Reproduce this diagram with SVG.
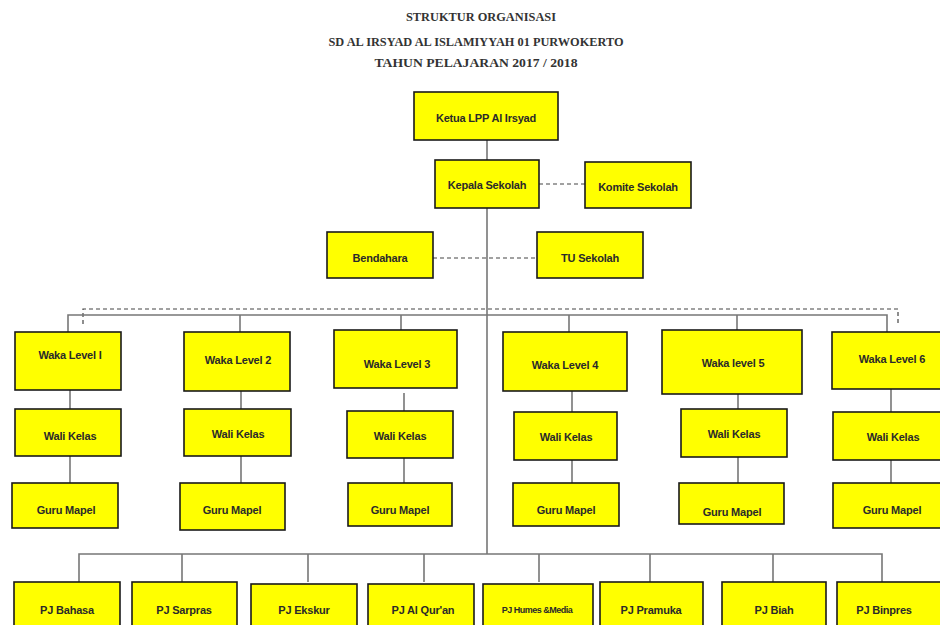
<svg xmlns="http://www.w3.org/2000/svg" width="940" height="625" viewBox="0 0 940 625">
<style>
.title{font-family:"Liberation Serif","DejaVu Serif",serif;font-size:12px;font-weight:bold;fill:#333;text-anchor:middle}
.box rect{fill:#FFFF00;stroke:#1a1a1a;stroke-width:1.6}
.box text{font-family:"Liberation Sans","DejaVu Sans",sans-serif;font-size:11px;font-weight:bold;fill:#2a2a2a;text-anchor:middle;dominant-baseline:central;letter-spacing:-0.2px}
.ln{stroke:#777;stroke-width:1.6;fill:none}
.dash{stroke:#444;stroke-width:1.2;fill:none;stroke-dasharray:4 3}
</style>
<rect width="940" height="625" fill="#fff"/>
<g id="title">
<text class="title" x="481" y="21" textLength="150" lengthAdjust="spacingAndGlyphs">STRUKTUR ORGANISASI</text>
<text class="title" x="476" y="46" textLength="295" lengthAdjust="spacingAndGlyphs">SD AL IRSYAD AL ISLAMIYYAH 01 PURWOKERTO</text>
<text class="title" x="476" y="67" textLength="203" lengthAdjust="spacingAndGlyphs">TAHUN PELAJARAN 2017 / 2018</text>
</g>
<g id="connectors">
<path class="ln" d="M487 140V160M487 208V554"/>
<path class="dash" d="M539 184H585M433 258H537"/>
<path class="dash" d="M83 324V309H898V324"/>
<path class="ln" d="M68 332V315H887V332M240 315V332M401 315V330M569 315V332M737 315V330"/>
<path class="ln" d="M70 390V409M70 456V483M241 391V409M241 456V483M404 393V411M404 458V483M572 391V412M572 460V483M738 394V409M738 457V483M891 389V412M891 460V483"/>
<path class="ln" d="M79 582V554H882V582M182 554V582M308 554V582M424 554V582M539 554V582M650 554V582M773 554V582"/>
</g>
<g id="ketua" class="box"><rect x="414" y="92" width="144" height="48"/><text x="486" y="118">Ketua LPP Al Irsyad</text></g>
<g id="kepala" class="box"><rect x="435" y="160" width="104" height="48"/><text x="487" y="185">Kepala Sekolah</text></g>
<g id="komite" class="box"><rect x="585" y="162" width="106" height="46"/><text x="638" y="187">Komite Sekolah</text></g>
<g id="bendahara" class="box"><rect x="327" y="232" width="106" height="46"/><text x="380" y="258">Bendahara</text></g>
<g id="tu" class="box"><rect x="537" y="232" width="106" height="46"/><text x="590" y="258">TU Sekolah</text></g>
<g id="waka1" class="box"><rect x="15" y="332" width="106" height="58"/><text x="70" y="355">Waka Level I</text></g>
<g id="waka2" class="box"><rect x="184" y="332" width="106" height="59"/><text x="238" y="360">Waka Level 2</text></g>
<g id="waka3" class="box"><rect x="334" y="330" width="123" height="58"/><text x="397" y="364">Waka Level 3</text></g>
<g id="waka4" class="box"><rect x="503" y="332" width="124" height="59"/><text x="565" y="365">Waka Level 4</text></g>
<g id="waka5" class="box"><rect x="662" y="330" width="140" height="64"/><text x="733" y="363">Waka level 5</text></g>
<g id="waka6" class="box"><rect x="832" y="332" width="112" height="57"/><text x="892" y="359">Waka Level 6</text></g>
<g id="wali1" class="box"><rect x="15" y="409" width="106" height="47"/><text x="70" y="436">Wali Kelas</text></g>
<g id="wali2" class="box"><rect x="184" y="409" width="107" height="47"/><text x="238" y="434">Wali Kelas</text></g>
<g id="wali3" class="box"><rect x="347" y="411" width="106" height="47"/><text x="400" y="436">Wali Kelas</text></g>
<g id="wali4" class="box"><rect x="514" y="412" width="103" height="48"/><text x="566" y="437">Wali Kelas</text></g>
<g id="wali5" class="box"><rect x="681" y="409" width="106" height="48"/><text x="734" y="434">Wali Kelas</text></g>
<g id="wali6" class="box"><rect x="833" y="412" width="111" height="48"/><text x="893" y="437">Wali Kelas</text></g>
<g id="guru1" class="box"><rect x="12" y="483" width="106" height="45"/><text x="66" y="510">Guru  Mapel</text></g>
<g id="guru2" class="box"><rect x="180" y="483" width="105" height="47"/><text x="232" y="510">Guru  Mapel</text></g>
<g id="guru3" class="box"><rect x="348" y="483" width="104" height="43"/><text x="400" y="510">Guru Mapel</text></g>
<g id="guru4" class="box"><rect x="513" y="483" width="106" height="43"/><text x="566" y="510">Guru  Mapel</text></g>
<g id="guru5" class="box"><rect x="679" y="483" width="105" height="41"/><text x="732" y="512">Guru Mapel</text></g>
<g id="guru6" class="box"><rect x="833" y="483" width="111" height="45"/><text x="892" y="510">Guru  Mapel</text></g>
<g id="pj-bahasa" class="box"><rect x="14" y="582" width="106" height="60"/><text x="67" y="610">PJ Bahasa</text></g>
<g id="pj-sarpras" class="box"><rect x="132" y="582" width="105" height="60"/><text x="184" y="610">PJ Sarpras</text></g>
<g id="pj-ekskur" class="box"><rect x="251" y="584" width="106" height="60"/><text x="304" y="610">PJ Ekskur</text></g>
<g id="pj-quran" class="box"><rect x="368" y="584" width="106" height="60"/><text x="423" y="610">PJ Al Qur'an</text></g>
<g id="pj-humes" class="box"><rect x="483" y="584" width="110" height="60"/><text x="537" y="610" style="font-size:9px;letter-spacing:-0.5px">PJ Humes &amp;Media</text></g>
<g id="pj-pramuka" class="box"><rect x="600" y="582" width="103" height="60"/><text x="651" y="610">PJ Pramuka</text></g>
<g id="pj-biah" class="box"><rect x="722" y="582" width="104" height="60"/><text x="774" y="610">PJ Biah</text></g>
<g id="pj-binpres" class="box"><rect x="837" y="582" width="107" height="60"/><text x="884" y="610">PJ Binpres</text></g>
</svg>
